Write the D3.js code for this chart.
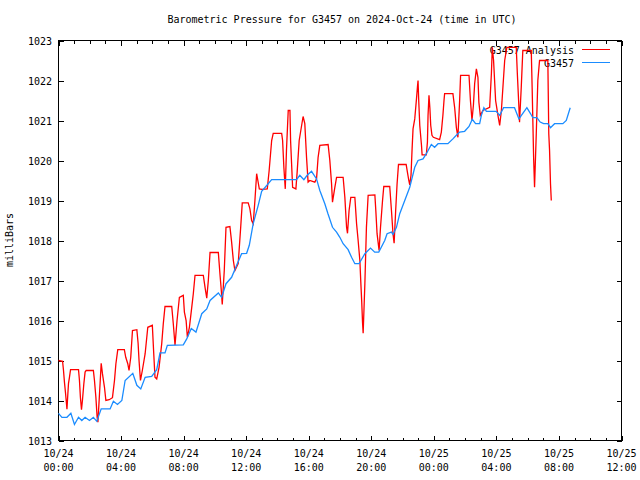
<!DOCTYPE html>
<html><head><meta charset="utf-8">
<script src="https://cdn.jsdelivr.net/npm/d3@7"></script>
<style>
body{margin:0;background:#fff}
svg{display:block}
text{font-family:"DejaVu Sans Mono","Liberation Mono",monospace;font-size:10px;fill:#000}
</style>
</head><body>
<svg id="c" width="640" height="480"></svg>
<script>
const title = "Barometric Pressure for G3457 on 2024-Oct-24 (time in UTC)";
const yAxisLabel = "milliBars";
const seriesNames = ["G3457 Analysis", "G3457"];
const yTicks = [1013,1014,1015,1016,1017,1018,1019,1020,1021,1022,1023];
const xTickHours = [0,4,8,12,16,20,24,28,32,36];
const xTickDates = ["10/24","10/24","10/24","10/24","10/24","10/24","10/25","10/25","10/25","10/25"];
const xTickTimes = ["00:00","04:00","08:00","12:00","16:00","20:00","00:00","04:00","08:00","12:00"];

// hours since 2024-10-24 00:00 UTC
const redHours = [0.00,0.26,0.32,0.38,0.45,0.54,0.60,0.64,0.70,0.77,
1.28,1.34,1.40,1.47,1.53,1.62,1.70,1.77,2.23,2.30,
2.39,2.47,2.52,2.66,2.73,2.81,2.94,3.03,3.24,3.45,
3.58,3.67,3.79,4.21,4.30,4.43,4.51,4.62,4.73,5.01,
5.09,5.15,5.24,5.36,5.54,5.71,6.00,6.09,6.17,6.28,
6.43,6.60,6.70,6.81,7.24,7.34,7.45,7.58,7.73,7.98,
8.05,8.16,8.24,8.37,8.52,8.62,8.73,9.26,9.37,9.48,
9.58,9.69,10.22,10.33,10.41,10.47,10.60,10.71,10.96,11.07,
11.18,11.28,11.49,11.65,11.75,12.13,12.24,12.35,12.45,12.56,
12.67,12.77,12.84,13.01,13.35,13.47,13.63,13.73,14.27,14.33,
14.41,14.50,14.58,14.69,14.80,14.84,14.97,15.18,15.26,15.39,
15.64,15.75,15.86,15.96,16.07,16.39,16.50,16.60,16.71,17.24,
17.35,17.46,17.52,17.67,17.78,18.20,18.31,18.42,18.48,18.58,
18.69,18.95,19.06,19.16,19.27,19.33,19.39,19.44,19.48,19.59,
19.69,19.80,20.23,20.29,20.37,20.50,20.59,20.72,20.80,21.18,
21.29,21.39,21.46,21.56,21.65,21.74,22.23,22.31,22.40,22.46,
22.54,22.61,22.67,22.78,22.89,22.95,22.99,23.03,23.10,23.21,
23.25,23.52,23.59,23.63,23.69,23.75,23.80,23.88,23.97,24.37,
24.48,24.58,24.65,24.69,25.22,25.33,25.44,25.54,25.65,25.71,
26.25,26.34,26.44,26.53,26.61,26.72,26.82,26.88,26.97,27.14,
27.57,27.68,27.74,27.82,27.95,28.10,28.21,28.32,28.53,28.67,
29.27,29.34,29.44,29.48,29.59,29.69,30.23,30.29,30.38,30.44,
30.55,30.65,30.76,31.29,31.35,31.40,31.46,31.51];
const redPressure = [1015.00,1014.98,1014.75,1014.46,1014.18,1013.78,1014.18,1014.43,1014.58,1014.77,
1014.77,1014.50,1014.08,1013.77,1014.00,1014.42,1014.71,1014.75,1014.75,1014.50,
1014.08,1013.58,1013.46,1014.43,1014.93,1014.67,1014.33,1014.00,1014.02,1014.07,
1014.50,1014.92,1015.27,1015.27,1015.08,1014.92,1014.75,1015.08,1015.75,1015.77,
1015.43,1015.00,1014.50,1014.75,1015.17,1015.83,1015.88,1015.17,1014.58,1014.54,
1014.83,1015.42,1015.92,1016.35,1016.35,1015.92,1015.38,1016.00,1016.58,1016.63,
1016.21,1016.00,1015.58,1015.83,1016.33,1016.67,1017.13,1017.13,1016.83,1016.56,
1017.00,1017.70,1017.70,1017.13,1016.75,1016.40,1017.25,1018.33,1018.35,1017.96,
1017.50,1017.25,1017.42,1018.33,1018.94,1018.94,1018.79,1018.50,1018.42,1019.00,
1019.67,1019.45,1019.29,1019.28,1019.29,1019.75,1020.50,1020.68,1020.68,1020.50,
1019.83,1019.29,1020.29,1021.25,1021.25,1020.50,1019.33,1019.29,1019.71,1020.50,
1021.10,1020.92,1020.08,1019.46,1019.50,1019.46,1019.54,1020.08,1020.38,1020.40,
1020.00,1019.42,1018.96,1019.33,1019.58,1019.58,1019.08,1018.33,1018.18,1018.75,
1019.08,1019.08,1018.42,1018.00,1017.50,1016.96,1016.46,1015.96,1015.68,1016.92,
1018.33,1019.13,1019.14,1018.75,1018.17,1017.75,1018.33,1019.00,1019.35,1019.35,
1018.75,1018.17,1017.93,1018.75,1019.42,1019.90,1019.90,1019.71,1019.50,1019.39,
1019.63,1020.29,1020.79,1021.04,1021.54,1021.83,1022.00,1021.54,1020.88,1020.38,
1020.14,1020.14,1020.46,1021.13,1021.63,1021.29,1020.88,1020.63,1020.58,1020.52,
1020.71,1021.13,1021.50,1021.67,1021.67,1021.33,1020.83,1020.58,1021.50,1022.13,
1022.13,1021.50,1021.00,1021.38,1021.92,1022.29,1022.08,1021.46,1021.13,1021.25,
1021.33,1022.17,1022.83,1022.50,1021.50,1021.13,1020.88,1021.25,1022.50,1022.83,
1022.83,1022.17,1021.33,1020.96,1021.83,1022.75,1022.75,1021.75,1020.08,1019.33,
1020.67,1022.00,1022.50,1022.50,1020.67,1020.25,1019.42,1019.00];

const blueHours = [0,0.22,0.54,0.79,1.02,1.28,1.49,1.70,1.98,2.23,
2.45,2.73,3.30,3.51,3.77,4.05,4.26,4.75,5.01,5.26,
5.54,5.96,6.28,6.49,6.81,6.96,7.98,8.20,8.49,8.79,
9.16,9.48,9.69,10.22,10.43,10.71,11.07,11.39,11.71,12.03,
12.20,12.45,12.77,12.99,13.26,13.63,15.22,15.43,15.69,15.90,
16.18,16.50,16.71,17.03,17.22,17.52,17.78,17.99,18.20,18.52,
18.74,18.95,19.22,19.59,19.95,20.22,20.48,20.86,21.01,21.29,
21.39,21.61,21.82,22.14,22.46,22.78,22.99,23.31,23.52,23.84,
24.05,24.27,24.90,25.22,25.44,25.65,25.97,26.25,26.46,26.67,
26.93,27.04,27.20,27.36,27.99,28.21,28.46,29.16,29.44,29.69,
29.95,30.17,30.33,30.59,30.80,31.02,31.29,31.46,31.72,32.25,
32.47,32.72];
const bluePressure = [1013.68,1013.58,1013.58,1013.68,1013.40,1013.58,1013.50,1013.58,1013.50,1013.58,
1013.48,1013.79,1013.79,1013.98,1013.90,1014.00,1014.50,1014.68,1014.38,1014.29,
1014.58,1014.60,1014.77,1015.19,1015.19,1015.38,1015.39,1015.54,1015.80,1015.71,
1016.17,1016.29,1016.50,1016.69,1016.58,1016.92,1017.08,1017.38,1017.67,1017.68,
1017.88,1018.42,1018.88,1019.23,1019.35,1019.52,1019.52,1019.63,1019.52,1019.63,
1019.73,1019.54,1019.25,1018.92,1018.68,1018.33,1018.21,1018.08,1017.92,1017.77,
1017.58,1017.42,1017.42,1017.67,1017.81,1017.71,1017.71,1018.00,1018.17,1018.21,
1018.15,1018.33,1018.67,1019.00,1019.33,1019.83,1020.00,1020.04,1020.17,1020.40,
1020.33,1020.42,1020.42,1020.54,1020.63,1020.71,1020.73,1020.85,1021.03,1020.92,
1020.92,1021.13,1021.32,1021.23,1021.23,1021.13,1021.32,1021.32,1021.04,1021.18,
1021.32,1021.18,1021.07,1021.07,1020.96,1020.92,1020.92,1020.82,1020.92,1020.92,
1021.00,1021.32];

const colors = ["#ff0000", "#1a8cff"];

const svg = d3.select("#c");
const L = 58.5, R = 621.5, T = 40.5, B = 440.5;
const x = d3.scaleLinear().domain([0, 36]).range([L, R]);
const y = d3.scaleLinear().domain([1013, 1023]).range([B, T]);

// Title
svg.append("text").attr("x", 342).attr("y", 23).attr("text-anchor", "middle").text(title);
// Y label
svg.append("text").attr("transform", "translate(13,240) rotate(-90)").attr("text-anchor", "middle").text(yAxisLabel);

// Axes ticks (inward, mirrored)
const minorHours = d3.range(0, 37).filter(h => h % 4 !== 0);
function tickStyle(g){ g.select(".domain").remove(); g.selectAll("line").attr("stroke","#000").attr("shape-rendering","crispEdges"); g.selectAll("text").remove(); }
svg.append("g").attr("transform", `translate(0,${B})`).call(d3.axisBottom(x).tickValues(xTickHours).tickSize(-5).tickFormat("")).call(tickStyle);
svg.append("g").attr("transform", `translate(0,${B})`).call(d3.axisBottom(x).tickValues(minorHours).tickSize(-3).tickFormat("")).call(tickStyle);
svg.append("g").attr("transform", `translate(0,${T})`).call(d3.axisTop(x).tickValues(xTickHours).tickSize(-5).tickFormat("")).call(tickStyle);
svg.append("g").attr("transform", `translate(0,${T})`).call(d3.axisTop(x).tickValues(minorHours).tickSize(-3).tickFormat("")).call(tickStyle);
svg.append("g").attr("transform", `translate(${L},0)`).call(d3.axisLeft(y).tickValues(yTicks).tickSize(-5).tickFormat("")).call(tickStyle);
svg.append("g").attr("transform", `translate(${R},0)`).call(d3.axisRight(y).tickValues(yTicks).tickSize(-5).tickFormat("")).call(tickStyle);

// Y tick labels
svg.selectAll("text.ytl").data(yTicks).enter().append("text").attr("class","ytl")
  .attr("x", 52).attr("y", d => y(d) + 4).attr("text-anchor", "end").text(d => d);
// X tick labels
const xl = svg.selectAll("g.xtl").data(xTickHours).enter().append("g").attr("class","xtl");
xl.append("text").attr("x", d => x(d)).attr("y", 457).attr("text-anchor","middle").text((d,i) => xTickDates[i]);
xl.append("text").attr("x", d => x(d)).attr("y", 471).attr("text-anchor","middle").text((d,i) => xTickTimes[i]);

// Legend
const legY = [49.5, 62.5];
seriesNames.forEach((n, i) => {
  svg.append("text").attr("x", 574).attr("y", legY[i] + 4).attr("text-anchor", "end").text(n);
  svg.append("line").attr("x1", 582).attr("x2", 610).attr("y1", legY[i]).attr("y2", legY[i]).attr("stroke", colors[i]).attr("stroke-width", 1).attr("shape-rendering","crispEdges");
});

// Frame
svg.append("rect").attr("x", L).attr("y", T).attr("width", R - L).attr("height", B - T).attr("fill", "none").attr("stroke", "#000").attr("shape-rendering","crispEdges");

// Series
const line = d3.line().x(d => x(d[0])).y(d => y(d[1]));
svg.append("path").datum(d3.zip(redHours, redPressure)).attr("d", line).attr("fill","none").attr("stroke", colors[0]).attr("stroke-width", 1.3);
svg.append("path").datum(d3.zip(blueHours, bluePressure)).attr("d", line).attr("fill","none").attr("stroke", colors[1]).attr("stroke-width", 1.3);
</script>
</body></html>
